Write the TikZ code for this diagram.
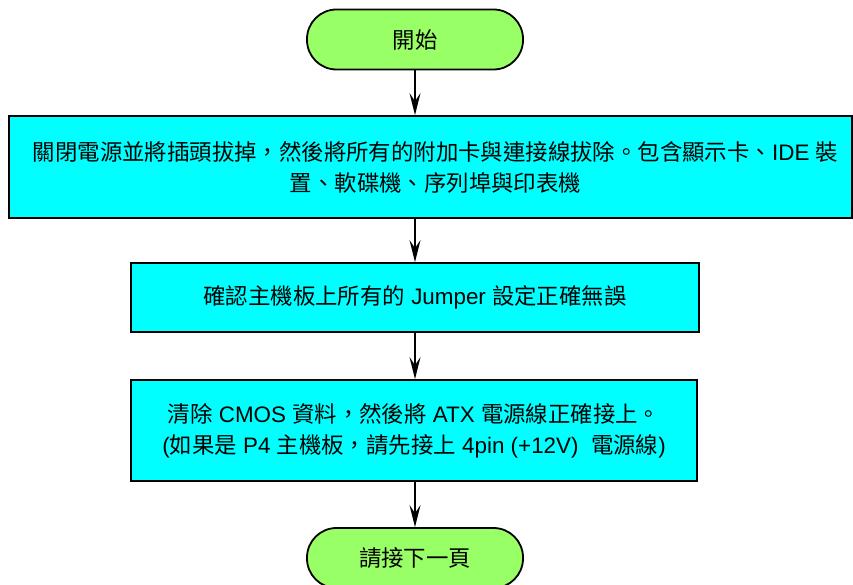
\documentclass[tikz,border=0pt]{standalone}
\usepackage{fontspec}
\setmainfont{Noto Sans CJK TC}
\newfontfamily\latf{Liberation Sans}
\usetikzlibrary{arrows.meta}
\definecolor{termgreen}{HTML}{99FF66}
\definecolor{boxcyan}{HTML}{00FFFF}
\begin{document}
\begin{tikzpicture}[x=1pt,y=-1pt,
  every node/.style={font=\fontsize{22.4}{31}\selectfont, text=black, inner sep=0pt},
  term/.style={draw=black, line width=1.8pt, fill=termgreen, rounded corners=29.5pt,
    minimum width=216pt, minimum height=60pt},
  procbox/.style={draw=black, line width=1.8pt, fill=boxcyan, align=center},
  flow/.style={draw=black, line width=1.8pt, -{Stealth[length=22pt,width=11pt,inset=8pt]}}]
\useasboundingbox (0,0) rectangle (853,585);
\clip (0,0) rectangle (853,585);
\node[term] (start) at (415,39.5) {開始};
\node[procbox, minimum width=843pt, minimum height=102pt] (b1) at (430.5,167) {};
\node[align=center] (b1text) at (435.5,167)
  {關閉電源並將插頭拔掉，然後將所有的附加卡與連接線拔除。包含顯示卡、{\latf IDE\ }裝\\置、軟碟機、序列埠與印表機};
\node[procbox, minimum width=568pt, minimum height=69pt] (b2) at (415,297.5)
  {確認主機板上所有的{\latf\ Jumper\ }設定正確無誤};
\node[procbox, minimum width=566pt, minimum height=101pt] (b3) at (414,430.5)
  {清除{\latf\ CMOS\ }資料，然後將{\latf\ ATX\ }電源線正確接上。\\{\latf(}如果是{\latf\ P4\ }主機板，請先接上{\latf\ 4pin (+12V)\ \ }電源線{\latf)}};
\node[term] (end) at (415,558) {請接下一頁};
\draw[flow] (start.south) -- (start.south |- b1.north);
\draw[flow] (start.south |- b1.south) -- (b2.north -| start.south);
\draw[flow] (b2.south -| start.south) -- (b3.north -| start.south);
\draw[flow] (b3.south -| end.north) -- (end.north);
\end{tikzpicture}
\end{document}
